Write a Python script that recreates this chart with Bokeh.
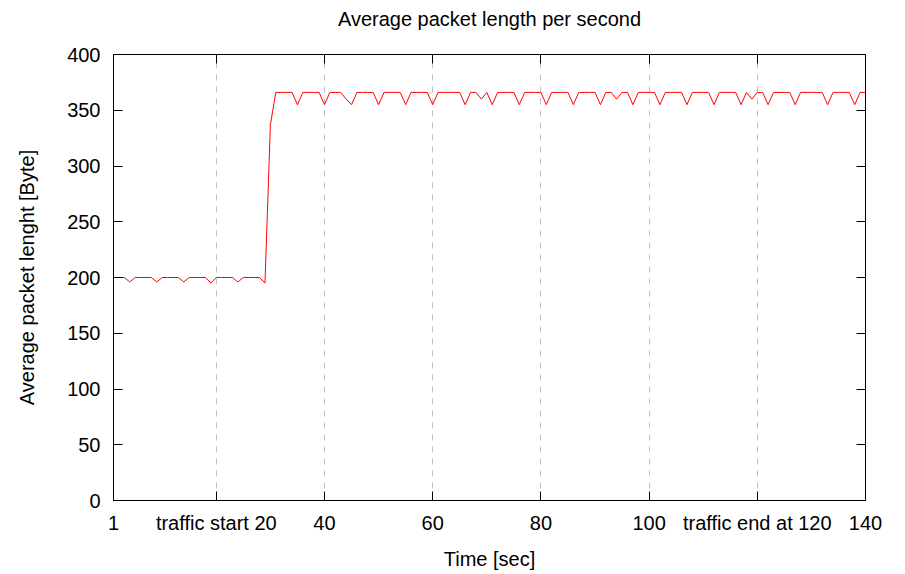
from bokeh.plotting import figure
from bokeh.models import LinearAxis, FixedTicker, Range1d
from bokeh.embed import file_html
from bokeh.resources import INLINE

# ---- data ----
seconds = list(range(1, 141))
avg_len = [
    200, 200, 200, 196, 200, 200, 200, 200, 196, 200,
    200, 200, 200, 196, 200, 200, 200, 200, 195, 200,
    200, 200, 200, 196, 200, 200, 200, 200, 195, 337,
    366, 366, 366, 366, 355, 366, 366, 366, 366, 355,
    366, 366, 366, 360, 355, 366, 366, 366, 366, 355,
    366, 366, 366, 366, 355, 366, 366, 366, 366, 355,
    366, 366, 366, 366, 366, 355, 366, 366, 360, 366,
    355, 366, 366, 366, 366, 355, 366, 366, 366, 366,
    355, 366, 366, 366, 366, 355, 366, 366, 366, 366,
    355, 366, 366, 360, 366, 366, 355, 366, 366, 366,
    366, 355, 366, 366, 366, 366, 355, 366, 366, 366,
    366, 355, 366, 366, 366, 366, 355, 366, 360, 366,
    366, 355, 366, 366, 366, 366, 355, 366, 366, 366,
    366, 366, 355, 366, 366, 366, 366, 355, 366, 366,
]
x_ticks = [1, 20, 40, 60, 80, 100, 120, 140]
x_tick_labels = ["1", "traffic start 20", "40", "60", "80", "100",
                 "traffic end at 120", "140"]
y_ticks = [0, 50, 100, 150, 200, 250, 300, 350, 400]
chart_title = "Average packet length per second"

FONT = "Liberation Sans"
FS = "20px"

p = figure(width=905, height=574, output_backend="svg", toolbar_location=None,
           x_range=Range1d(1, 140), y_range=Range1d(0, 400),
           min_border_left=113, min_border_right=40,
           min_border_top=54, min_border_bottom=74)
p.background_fill_color = "white"
p.border_fill_color = "white"
p.outline_line_color = "black"
p.outline_line_width = 1

def style_axis(ax, ticks, show_labels):
    ax.ticker = FixedTicker(ticks=ticks)
    ax.major_tick_in = 9
    ax.major_tick_out = 0
    ax.minor_tick_in = 0
    ax.minor_tick_out = 0
    ax.major_tick_line_color = "black"
    ax.axis_line_color = None
    ax.major_label_text_font = FONT
    ax.major_label_text_font_size = FS if show_labels else "0px"
    ax.major_label_text_color = "black" if show_labels else None
    ax.axis_label_text_font = FONT
    ax.axis_label_text_font_size = FS
    ax.axis_label_text_font_style = "normal"
    ax.axis_label_text_color = "black"

xa = p.xaxis[0]
style_axis(xa, x_ticks, True)
xa.major_label_overrides = {t: lab for t, lab in zip(x_ticks, x_tick_labels)}
xa.major_label_standoff = 11
xa.axis_label = "Time [sec]"
xa.axis_label_standoff = 11

ya = p.yaxis[0]
style_axis(ya, y_ticks, True)
ya.major_label_standoff = 13
ya.axis_label = "Average packet lenght [Byte]"
ya.axis_label_standoff = 26

ra = LinearAxis()
style_axis(ra, y_ticks, False)
ra.major_label_standoff = 0
p.add_layout(ra, "right")

# top mirror axis; its axis label serves as the chart title
ta = LinearAxis()
style_axis(ta, x_ticks, False)
ta.major_label_standoff = 0
ta.axis_label = chart_title
ta.axis_label_standoff = 25
p.add_layout(ta, "above")

p.ygrid.visible = False
p.xgrid.ticker = FixedTicker(ticks=x_ticks)
p.xgrid.grid_line_color = "#c0c0c0"
p.xgrid.grid_line_dash = "6 6"
p.xgrid.grid_line_width = 1

p.line(seconds, avg_len, line_color="red", line_width=1)

open("out.html", "w").write(file_html(p, INLINE))
